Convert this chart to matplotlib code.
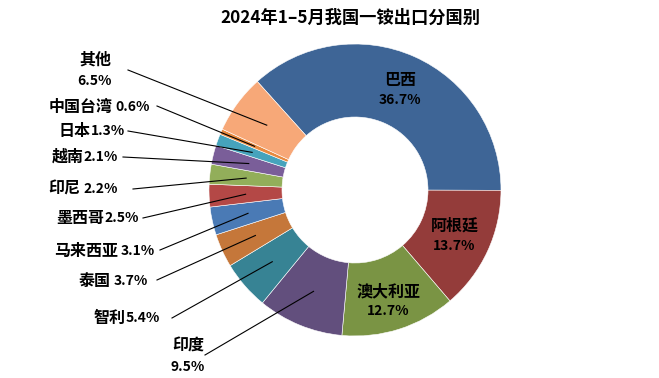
import matplotlib.pyplot as plt
import numpy as np

plt.rcParams['font.family'] = ['Noto Sans CJK SC', 'DejaVu Sans']

# 数据
countries = ['巴西', '阿根廷', '澳大利亚', '印度', '智利', '泰国', '马来西亚',
             '墨西哥', '印尼', '越南', '日本', '中国台湾', '其他']
shares = [36.7, 13.7, 12.7, 9.5, 5.4, 3.7, 3.1, 2.5, 2.2, 2.1, 1.3, 0.6, 6.5]
colors = ['#3E6596', '#943C3A', '#7A9444', '#624F7D', '#378394', '#C5773A',
          '#4A7AB5', '#B44846', '#92AE5A', '#7A5E99', '#46A3BC', '#E8893E',
          '#F7A878']
title = '2024年1–5月我国一铵出口分国别'

NAME_FS, PCT_FS = 11.5, 10

W, H = 659, 378
fig = plt.figure(figsize=(W / 100, H / 100), dpi=100)
ax = fig.add_axes([0, 0, 1, 1])

cx, cy, R = 355, H - 190, 146
wedges, _ = ax.pie(shares, colors=colors, startangle=132, counterclock=False,
                   center=(cx, cy), radius=R, frame=True,
                   wedgeprops=dict(width=R * 0.5, edgecolor='white', linewidth=0.4))
ax.set_xlim(0, W)
ax.set_ylim(0, H)
ax.set_aspect('equal')
ax.axis('off')
renderer = fig.canvas.get_renderer()


def anchor(w, r=0.75):
    a = np.deg2rad((w.theta1 + w.theta2) / 2)
    return cx + r * R * np.cos(a), cy + r * R * np.sin(a)


# 内部标签
inside_off = {'巴西': 0, '阿根廷': 0, '澳大利亚': -7}
for i in range(3):
    x, y = anchor(wedges[i])
    y += inside_off[countries[i]]
    ax.text(x, y + 10, countries[i], ha='center', va='center', fontsize=NAME_FS,
            fontweight='bold')
    ax.text(x, y - 10, f'{shares[i]}%', ha='center', va='center', fontsize=PCT_FS,
            fontweight='bold')

# 外部标签: 文字右端x, 文字y, 引线起点, 名称与百分比间距
outside = {
    '智利': (160, 318, 172, 318, 0),
    '泰国': (148, 281, 157, 280, 3),
    '马来西亚': (155, 251, 160, 250, 3),
    '墨西哥': (139, 218, 143, 218, 0),
    '印尼': (118, 189, 133, 189, 3),
    '越南': (118, 157, 123, 157, 0),
    '日本': (125, 131, 128, 131, 0),
    '中国台湾': (150, 107, 157, 106, 3),
}
for i in range(3, len(countries)):
    name = countries[i]
    ax_, ay_ = anchor(wedges[i])
    if name in outside:
        tx, ty, lx, ly, gap = outside[name]
        t = ax.text(tx, H - ty, f'{shares[i]}%', ha='right', va='center',
                    fontsize=PCT_FS, fontweight='bold')
        wpx = t.get_window_extent(renderer).width
        ax.text(tx - wpx - gap, H - ty, name, ha='right', va='center',
                fontsize=NAME_FS, fontweight='bold')
    elif name == '其他':
        ax.text(95, H - 60, name, ha='center', va='center', fontsize=NAME_FS,
                fontweight='bold')
        ax.text(95, H - 81, f'{shares[i]}%', ha='center', va='center',
                fontsize=PCT_FS, fontweight='bold')
        lx, ly = 128, 70
    else:  # 印度
        ax.text(188, H - 346, name, ha='center', va='center', fontsize=NAME_FS,
                fontweight='bold')
        ax.text(188, H - 367, f'{shares[i]}%', ha='center', va='center',
                fontsize=PCT_FS, fontweight='bold')
        lx, ly = 205, 355
    ax.plot([lx, ax_], [H - ly, ay_], color='black', lw=0.8)

ax.text(350, H - 18, title, ha='center', va='center', fontsize=12.4,
        fontweight='bold')

fig.savefig('out.png', dpi=100)
